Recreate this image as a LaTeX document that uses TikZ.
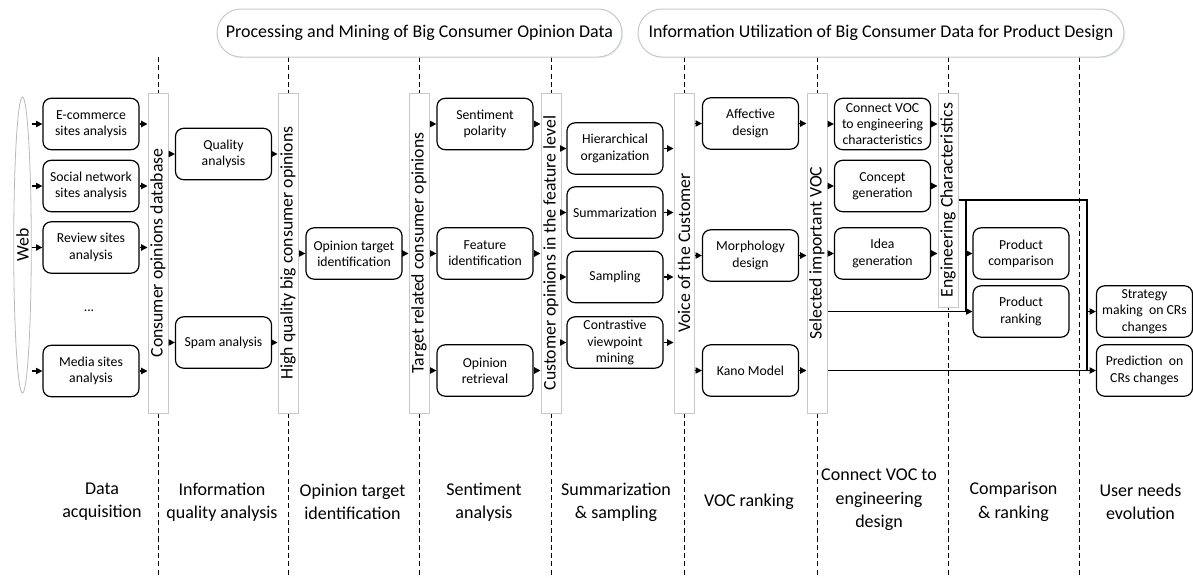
\documentclass[tikz,border=0pt]{standalone}
\usepackage{fontspec}
\setmainfont{Carlito}
\usepackage{graphicx}
\usetikzlibrary{arrows.meta,shapes.geometric,shadows}

\definecolor{barline}{RGB}{198,202,208}
\definecolor{barshade}{RGB}{150,170,200}

\tikzset{every picture/.style={line width=0.75pt}}
\tikzset{
  procbox/.style={draw, line width=0.9pt, rounded corners=6pt, fill=white, align=center,
    minimum width=72pt, minimum height=38.5pt, inner sep=1pt, font=\fontsize{10.3}{12.2}\selectfont},
  databar/.style={draw=barline, fill=white, line width=0.75pt, minimum width=15pt, minimum height=240pt,
    inner sep=0pt, font=\fontsize{13.3}{16}\selectfont,
    drop shadow={shadow xshift=0.9pt, shadow yshift=-0.9pt, opacity=0.18, fill=barshade}},
  phasepill/.style={draw=barline, fill=white, rounded corners=18pt, minimum height=36pt, inner sep=0pt,
    font=\fontsize{13.45}{16}\selectfont,
    drop shadow={shadow xshift=0.9pt, shadow yshift=-0.9pt, opacity=0.18, fill=barshade}},
  stagelabel/.style={align=center, font=\fontsize{13.5}{17.5}\selectfont},
  flow/.style={-{Triangle[length=4.8pt,width=4.8pt]}, line width=0.9pt},
  divider/.style={dash pattern=on 3.8pt off 2.4pt, line width=0.75pt},
}

\begin{document}
\begin{tikzpicture}[x=0.75pt,y=0.75pt,yscale=-1,xscale=1]
\useasboundingbox (0,0) rectangle (1193,578);

%Dashed Lines
\draw [divider] (158,57) -- (158,578);
\draw [divider] (288,57) -- (288,578);
\draw [divider] (419,57) -- (419,578);
\draw [divider] (551,57) -- (551,578);
\draw [divider] (684,57) -- (684,578);
\draw [divider] (817,57) -- (817,578);
\draw [divider] (948,57) -- (948,578);
\draw [divider] (1079,57) -- (1079,578);

% Phase Titles
\node [phasepill, minimum width=303.75pt] (mining) at (419.5,33) {Processing and Mining of Big Consumer Opinion Data};
\node [phasepill, minimum width=364.5pt] (utilize) at (881,33) {Information Utilization of Big Consumer Data for Product Design};

% Web
\node [ellipse, draw=gray!55, line width=0.6pt, minimum width=11pt, minimum height=222pt, inner sep=0pt,
  font=\fontsize{13.3}{16}\selectfont] (web) at (22.5,245) {\rotatebox{90}{Web}};

% Data Bars
\node [databar] (dbbar) at (158,253) {\rotatebox{90}{Consumer opinions database}};
\node [databar] (hqbar) at (288,253) {\rotatebox{90}{High quality big consumer opinions}};
\node [databar] (trbar) at (419,253) {\rotatebox{90}{Target related consumer opinions}};
\node [databar] (flbar) at (551,253) {\rotatebox{90}{Customer opinions in the feature level}};
\node [databar] (vocbar) at (684,253) {\rotatebox{90}{Voice of the Customer}};
\node [databar] (selbar) at (817,253) {\rotatebox{90}{Selected important VOC}};
\node [databar, minimum height=160.5pt] (ecbar) at (948,200) {\rotatebox{90}{Engineering Characteristics}};

% Data acquisition
\node [procbox] (ecom) at (91,124) {E-commerce\\sites analysis};
\node [procbox] (social) at (91,186) {Social network\\sites analysis};
\node [procbox] (review) at (91,247.5) {Review sites\\analysis};
\node [font=\fontsize{10.3}{12.2}\selectfont] (dots) at (89,311) {...};
\node [procbox] (media) at (91,371) {Media sites\\analysis};

% Information quality
\node [procbox] (quality) at (223.5,154) {Quality\\analysis};
\node [procbox] (spam) at (223.5,342.5) {Spam analysis};

% Opinion target
\node [procbox] (target) at (354,253.5) {Opinion target\\identification};

% Sentiment
\node [procbox] (polarity) at (485,124) {Sentiment\\polarity};
\node [procbox] (featid) at (485,253.5) {Feature\\identification};
\node [procbox] (retrieval) at (485,370.5) {Opinion\\retrieval};

% Summarization
\node [procbox] (hier) at (615,148.5) {Hierarchical\\organization};
\node [procbox] (summ) at (615,212.5) {Summarization};
\node [procbox] (sampling) at (615,277) {Sampling};
\node [procbox] (contrast) at (615,342.5) {Contrastive\\viewpoint\\mining};

% VOC ranking
\node [procbox] (affective) at (750.5,123.5) {Affective\\design};
\node [procbox] (morph) at (750.5,255.5) {Morphology\\design};
\node [procbox] (kano) at (750.5,370.5) {Kano Model};

% Engineering design
\node [procbox] (connect) at (882.5,124) {Connect VOC\\to engineering\\characteristics};
\node [procbox] (concept) at (882.5,186) {Concept\\generation};
\node [procbox] (idea) at (882.5,253.5) {Idea\\generation};

% Comparison
\node [procbox] (prodcomp) at (1021,253.5) {Product\\comparison};
\node [procbox] (prodrank) at (1021,311.5) {Product\\ranking};

% User needs
\node [procbox] (strategy) at (1144.5,311.5) {Strategy\\making~ on CRs\\changes};
\node [procbox] (predict) at (1144.5,370.5) {Prediction~ on\\CRs changes};

%Arrows
\draw [flow] (web.east |- ecom.west) -- (ecom.west);
\draw [flow] (web.east |- social.west) -- (social.west);
\draw [flow] (web.east |- review.west) -- (review.west);
\draw [flow] (web.east |- media.west) -- (media.west);
\draw [flow] (ecom.east) -- (ecom.east -| dbbar.west);
\draw [flow] (social.east) -- (social.east -| dbbar.west);
\draw [flow] (review.east) -- (review.east -| dbbar.west);
\draw [flow] (media.east) -- (media.east -| dbbar.west);

\draw [flow] (dbbar.east |- quality.west) -- (quality.west);
\draw [flow] (dbbar.east |- spam.west) -- (spam.west);
\draw [flow] (quality.east) -- (quality.east -| hqbar.west);
\draw [flow] (spam.east) -- (spam.east -| hqbar.west);

\draw [flow] (hqbar.east |- target.west) -- (target.west);
\draw [flow] (target.east) -- (target.east -| trbar.west);

\draw [flow] (trbar.east |- polarity.west) -- (polarity.west);
\draw [flow] (trbar.east |- featid.west) -- (featid.west);
\draw [flow] (trbar.east |- retrieval.west) -- (retrieval.west);
\draw [flow] (polarity.east) -- (polarity.east -| flbar.west);
\draw [flow] (featid.east) -- (featid.east -| flbar.west);
\draw [flow] (retrieval.east) -- (retrieval.east -| flbar.west);

\draw [flow] (flbar.east |- hier.west) -- (hier.west);
\draw [flow] (flbar.east |- summ.west) -- (summ.west);
\draw [flow] (flbar.east |- sampling.west) -- (sampling.west);
\draw [flow] (flbar.east |- contrast.west) -- (contrast.west);
\draw [flow] (hier.east) -- (hier.east -| vocbar.west);
\draw [flow] (summ.east) -- (summ.east -| vocbar.west);
\draw [flow] (sampling.east) -- (sampling.east -| vocbar.west);
\draw [flow] (contrast.east) -- (contrast.east -| vocbar.west);

\draw [flow] (vocbar.east |- affective.west) -- (affective.west);
\draw [flow] (vocbar.east |- morph.west) -- (morph.west);
\draw [flow] (vocbar.east |- kano.west) -- (kano.west);
\draw [flow] (affective.east) -- (affective.east -| selbar.west);
\draw [flow] (morph.east) -- (morph.east -| selbar.west);
\draw [flow] (kano.east) -- (kano.east -| selbar.west);

\draw [flow] (selbar.east |- connect.west) -- (connect.west);
\draw [flow] (selbar.east |- concept.west) -- (concept.west);
\draw [flow] (selbar.east |- idea.west) -- (idea.west);
\draw [flow] (connect.east) -- (connect.east -| ecbar.west);
\draw [flow] (concept.east) -- (concept.east -| ecbar.west);
\draw [flow] (idea.east) -- (idea.east -| ecbar.west);

% Branches to comparison and evolution
\coordinate (ecsplit) at (966,200);
\coordinate (evsplit) at (1087,200);
\draw [line width=0.9pt] (ecbar.east |- ecsplit) -- (evsplit) -- (evsplit |- predict.west);
\draw [line width=0.9pt] (ecsplit) -- (ecsplit |- prodrank.west);
\draw [flow] (ecsplit |- prodcomp.west) -- (prodcomp.west);
\draw [flow] (selbar.east |- prodrank.west) -- (prodrank.west);
\draw [flow] (selbar.east |- predict.west) -- (predict.west);
\draw [flow] (evsplit |- strategy.west) -- (strategy.west);

% Stage Labels
\node [stagelabel] (acq) at (102,502) {Data\\acquisition};
\node [stagelabel] (infq) at (222,502) {Information\\quality analysis};
\node [stagelabel] (otid) at (352.5,502) {Opinion target\\identification};
\node [stagelabel] (senti) at (484,502) {Sentiment\\analysis};
\node [stagelabel] (summs) at (616,502) {Summarization\\\& sampling};
\node [stagelabel] (vocr) at (749,502) {VOC ranking};
\node [stagelabel] (engd) at (879,500) {Connect VOC to\\engineering\\design};
\node [stagelabel] (cmpr) at (1013.5,502) {Comparison\\\& ranking};
\node [stagelabel] (evol) at (1140.5,502) {User needs\\evolution};

\end{tikzpicture}
\end{document}
